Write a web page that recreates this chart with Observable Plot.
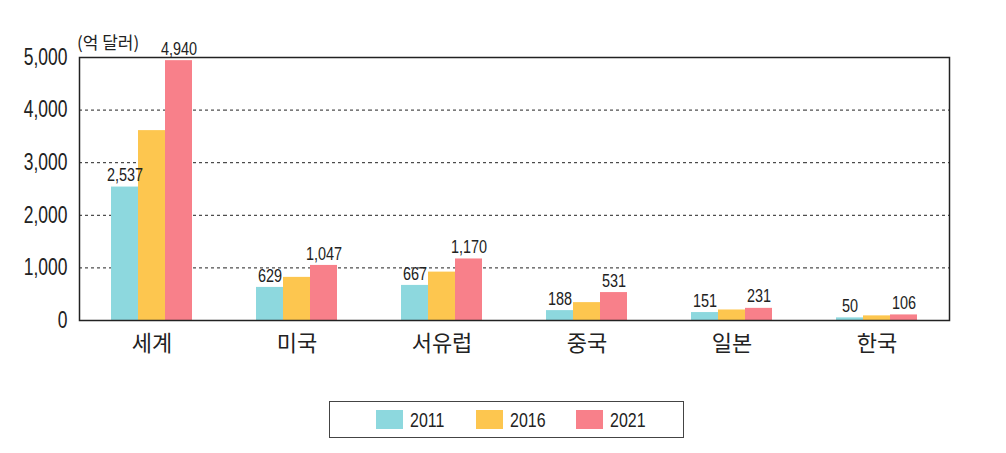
<!DOCTYPE html>
<html><head><meta charset="utf-8">
<script src="https://cdn.jsdelivr.net/npm/d3@7"></script>
<script src="https://cdn.jsdelivr.net/npm/@observablehq/plot@0.6"></script>
<style>
body{margin:0;background:#fff;}
#wrap{position:relative;width:1006px;height:453px;}
#unit{position:absolute;left:77px;top:29px;font:17px "Noto Sans CJK KR",sans-serif;color:#222;}
#legend{position:absolute;left:329px;top:401px;width:355px;height:37px;border:1px solid #444;box-sizing:border-box;font:21px "Liberation Sans",sans-serif;color:#222;}
.item{position:absolute;top:8px;display:flex;align-items:center;}
.sw{width:27px;height:19px;margin-right:7px;}
.lt{display:inline-block;transform:scaleX(0.76);transform-origin:left center;line-height:19px;}
</style></head>
<body><div id="wrap"><div id="chart"></div><div id="unit">(억 달러)</div><div id="legend"></div></div>
<script>
const regions = ["세계","미국","서유럽","중국","일본","한국"];
const years = ["2011","2016","2021"];
const v2011 = [2537, 629, 667, 188, 151, 50];
const v2016 = [3610, 820, 920, 340, 200, 88];
const v2021 = [4940, 1047, 1170, 531, 231, 106];
const colors = ["#8DD8DE","#FDC64F","#F8808A"];
const yTicks = [0,1000,2000,3000,4000,5000];
const gridTicks = [1000,2000,3000,4000];

const series = [v2011, v2016, v2021];
const data = [];
regions.forEach((r,i)=>years.forEach((y,j)=>data.push({region:r, year:y, value:series[j][i]})));
const labeled = data.filter(d=>d.year!=="2016");

const fmt = d3.format(",");
const latin = '"Liberation Sans",sans-serif';

const chart = Plot.plot({
  width:1006, height:390,
  marginLeft:78, marginRight:56, marginTop:57, marginBottom:70,
  style:{fontFamily:latin, color:"#222", background:"#fff"},
  fx:{domain:regions, padding:0, label:null, axis:null},
  x:{domain:years, paddingInner:0, paddingOuter:1.1, axis:null},
  y:{domain:[0,5000], axis:null},
  color:{domain:years, range:colors},
  marks:[
    Plot.gridY(gridTicks, {stroke:"#222", strokeOpacity:1, strokeDasharray:"3,3", strokeWidth:1}),
    Plot.barY(data, {fx:"region", x:"year", y:"value", fill:"year"}),
    Plot.text(labeled, {fx:"region", x:"year", y:"value", text:d=>fmt(d.value), dy:-12, fontSize:19, fill:"#222", className:"narrow"}),
    Plot.axisY(yTicks, {tickSize:0, tickPadding:12, tickFormat:fmt, fontSize:23, label:null, className:"narrow"}),
    Plot.axisFx({anchor:"bottom", tickSize:0, tickPadding:15, fontSize:22, fontFamily:"Noto Sans CJK KR", label:null}),
    Plot.frame({facet:"super", stroke:"#222", strokeWidth:1.5})
  ]
});
document.getElementById("chart").appendChild(chart);

// condense the latin number labels horizontally about their anchor point
const S = 0.76;
chart.querySelectorAll(".narrow text").forEach(el=>{
  const xs = el.x.baseVal;
  for (let k = 0; k < xs.numberOfItems; k++) { const it = xs.getItem(k); it.value = it.value / S; }
  const tr = chart.createSVGTransform(); tr.setScale(S, 1);
  el.transform.baseVal.appendItem(tr);
});

const lg = document.getElementById("legend");
const lefts = [46, 146, 246];
years.forEach((y,i)=>{
  const it = document.createElement("div"); it.className="item"; it.style.left = lefts[i]+"px";
  const sw = document.createElement("div"); sw.className="sw"; sw.style.background=colors[i];
  const t = document.createElement("span"); t.className="lt"; t.textContent=y;
  it.appendChild(sw); it.appendChild(t); lg.appendChild(it);
});
</script></body></html>
